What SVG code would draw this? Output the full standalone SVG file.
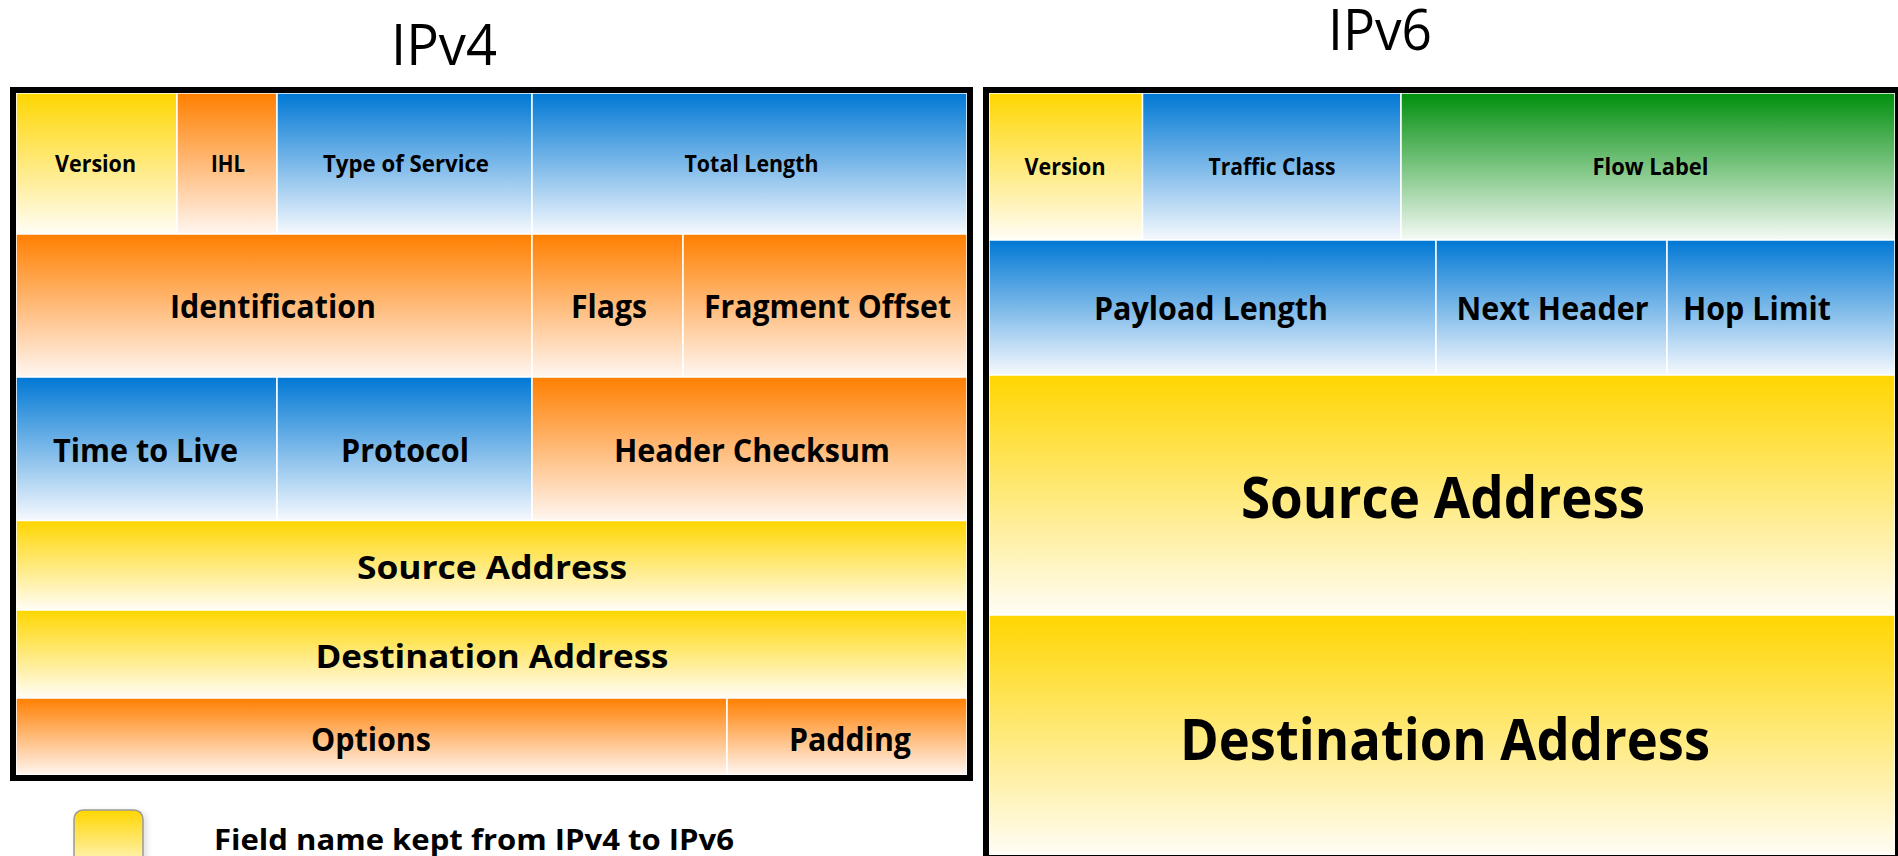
<svg xmlns="http://www.w3.org/2000/svg" width="1898" height="856" viewBox="0 0 1898 856">
<defs>
<linearGradient id="gY" x1="0" y1="0" x2="0" y2="1"><stop offset="0" stop-color="#FFD600"/><stop offset="1" stop-color="#FFFDF6"/></linearGradient>
<linearGradient id="gO" x1="0" y1="0" x2="0" y2="1"><stop offset="0" stop-color="#FF7F00"/><stop offset="1" stop-color="#FFF6F1"/></linearGradient>
<linearGradient id="gB" x1="0" y1="0" x2="0" y2="1"><stop offset="0" stop-color="#0078D4"/><stop offset="1" stop-color="#F6F9FE"/></linearGradient>
<linearGradient id="gG" x1="0" y1="0" x2="0" y2="1"><stop offset="0" stop-color="#008F0C"/><stop offset="1" stop-color="#F6FAF6"/></linearGradient>
<filter id="sh" x="-20%" y="-20%" width="150%" height="150%"><feDropShadow dx="3" dy="2" stdDeviation="3" flood-color="#000" flood-opacity="0.12"/></filter>
<style>
.cell{stroke:#FFFFFF;stroke-width:1.5}
.y{fill:url(#gY)}.o{fill:url(#gO)}.b{fill:url(#gB)}.g{fill:url(#gG)}
.frame{fill:none;stroke:#000;stroke-width:6}
.t{font-family:"Open Sans","Noto Sans",sans-serif;font-weight:700;fill:#000;text-anchor:middle}
.s{font-size:23px}.m{font-size:33px}.l{font-size:57px}
.title{font-family:"Open Sans","Noto Sans",sans-serif;font-weight:400;font-size:56px;fill:#000;text-anchor:middle}
.leg{font-family:"Open Sans","Noto Sans",sans-serif;font-weight:700;font-size:28px;fill:#000}
</style>
</defs>
<rect width="1898" height="856" fill="#FFFFFF"/>

<g id="ipv4">
<text class="title" x="444" y="65" textLength="106" lengthAdjust="spacingAndGlyphs">IPv4</text>
<g id="v4-version"><rect class="cell y" x="16" y="93" width="161" height="141"/><text class="t s" x="95.5" y="172" textLength="81" lengthAdjust="spacingAndGlyphs">Version</text></g>
<g id="v4-ihl"><rect class="cell o" x="177" y="93" width="100" height="141"/><text class="t s" x="228" y="172" textLength="34" lengthAdjust="spacingAndGlyphs">IHL</text></g>
<g id="v4-tos"><rect class="cell b" x="277" y="93" width="255" height="141"/><text class="t s" x="406" y="172" textLength="166" lengthAdjust="spacingAndGlyphs">Type of Service</text></g>
<g id="v4-totallength"><rect class="cell b" x="532" y="93" width="435" height="141"/><text class="t s" x="751.5" y="172" textLength="134" lengthAdjust="spacingAndGlyphs">Total Length</text></g>
<g id="v4-identification"><rect class="cell o" x="16" y="234" width="516" height="143"/><text class="t m" x="273" y="318" textLength="206" lengthAdjust="spacingAndGlyphs">Identification</text></g>
<g id="v4-flags"><rect class="cell o" x="532" y="234" width="151" height="143"/><text class="t m" x="609" y="318" textLength="76" lengthAdjust="spacingAndGlyphs">Flags</text></g>
<g id="v4-fragoffset"><rect class="cell o" x="683" y="234" width="284" height="143"/><text class="t m" x="827.5" y="318" textLength="247" lengthAdjust="spacingAndGlyphs">Fragment Offset</text></g>
<g id="v4-ttl"><rect class="cell b" x="16" y="377" width="261" height="143.5"/><text class="t m" x="145.5" y="462" textLength="185" lengthAdjust="spacingAndGlyphs">Time to Live</text></g>
<g id="v4-protocol"><rect class="cell b" x="277" y="377" width="255" height="143.5"/><text class="t m" x="405" y="462" textLength="128" lengthAdjust="spacingAndGlyphs">Protocol</text></g>
<g id="v4-checksum"><rect class="cell o" x="532" y="377" width="435" height="143.5"/><text class="t m" x="752" y="462" textLength="276" lengthAdjust="spacingAndGlyphs">Header Checksum</text></g>
<g id="v4-source"><rect class="cell y" x="16" y="520.5" width="951" height="89.5"/><text class="t m" x="492" y="579" textLength="270" lengthAdjust="spacingAndGlyphs">Source Address</text></g>
<g id="v4-destination"><rect class="cell y" x="16" y="610" width="951" height="88"/><text class="t m" x="492" y="668" textLength="353" lengthAdjust="spacingAndGlyphs">Destination Address</text></g>
<g id="v4-options"><rect class="cell o" x="16" y="698" width="711" height="77"/><text class="t m" x="371" y="750.5" textLength="120" lengthAdjust="spacingAndGlyphs">Options</text></g>
<g id="v4-padding"><rect class="cell o" x="727" y="698" width="240" height="77"/><text class="t m" x="850" y="750.5" textLength="122" lengthAdjust="spacingAndGlyphs">Padding</text></g>
<rect class="frame" x="13" y="90" width="957" height="688"/>
</g>

<g id="ipv6">
<text class="title" x="1380" y="50" textLength="104" lengthAdjust="spacingAndGlyphs">IPv6</text>
<g id="v6-version"><rect class="cell y" x="989" y="93" width="153.5" height="147"/><text class="t s" x="1065" y="174.5" textLength="81" lengthAdjust="spacingAndGlyphs">Version</text></g>
<g id="v6-trafficclass"><rect class="cell b" x="1142.5" y="93" width="258.5" height="147"/><text class="t s" x="1272" y="175" textLength="127" lengthAdjust="spacingAndGlyphs">Traffic Class</text></g>
<g id="v6-flowlabel"><rect class="cell g" x="1401" y="93" width="494" height="147"/><text class="t s" x="1650.5" y="175" textLength="116" lengthAdjust="spacingAndGlyphs">Flow Label</text></g>
<g id="v6-payloadlength"><rect class="cell b" x="989" y="240" width="447" height="135"/><text class="t m" x="1211" y="320" textLength="234" lengthAdjust="spacingAndGlyphs">Payload Length</text></g>
<g id="v6-nextheader"><rect class="cell b" x="1436" y="240" width="231" height="135"/><text class="t m" x="1552.5" y="320" textLength="192" lengthAdjust="spacingAndGlyphs">Next Header</text></g>
<g id="v6-hoplimit"><rect class="cell b" x="1667" y="240" width="228" height="135"/><text class="t m" x="1757" y="320" textLength="148" lengthAdjust="spacingAndGlyphs">Hop Limit</text></g>
<g id="v6-source"><rect class="cell y" x="989" y="375" width="906" height="240"/><text class="t l" x="1443" y="518" textLength="404" lengthAdjust="spacingAndGlyphs">Source Address</text></g>
<g id="v6-destination"><rect class="cell y" x="989" y="615" width="906" height="240"/><text class="t l" x="1445" y="760" textLength="530" lengthAdjust="spacingAndGlyphs">Destination Address</text></g>
<rect class="frame" x="986" y="90" width="912" height="768"/>
</g>

<g id="legend">
<rect x="74" y="810" width="69" height="70" rx="9" ry="9" fill="url(#gY)" stroke="#999999" stroke-width="1.5" filter="url(#sh)"/>
<text class="leg" x="214" y="850" textLength="520" lengthAdjust="spacingAndGlyphs">Field name kept from IPv4 to IPv6</text>
</g>

<g id="connectors"></g>
</svg>
